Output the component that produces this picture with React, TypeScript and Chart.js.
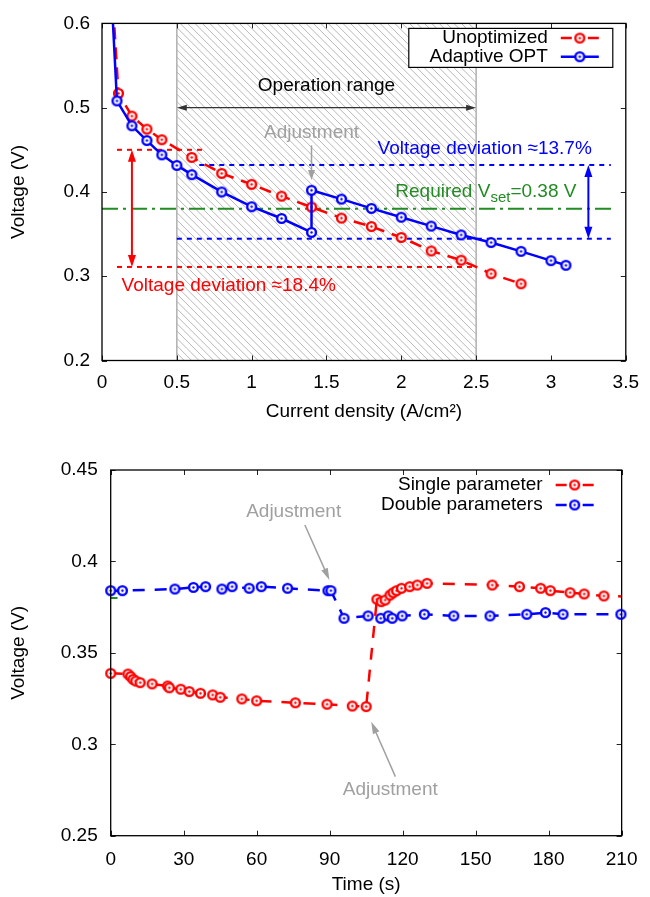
import React, { useEffect, useRef } from "react";
import { Chart, registerables } from "chart.js";

Chart.register(...registerables);

const FONT = "'Liberation Sans', Arial, Helvetica, sans-serif";

// ---------------- Top chart data ----------------
const unoptCurrent = [0.05, 0.11, 0.2, 0.3, 0.4, 0.6, 0.8, 1.0, 1.2, 1.4, 1.6, 1.8, 2.0, 2.2, 2.4, 2.6, 2.8];
const unoptVoltage = [0.69, 0.517, 0.49, 0.4745, 0.462, 0.441, 0.422, 0.409, 0.395, 0.382, 0.369, 0.359, 0.346, 0.33, 0.319, 0.303, 0.291];
const adaptCurrent = [0.05, 0.1, 0.2, 0.3, 0.4, 0.5, 0.6, 0.8, 1.0, 1.2, 1.4, 1.4, 1.6, 1.8, 2.0, 2.2, 2.4, 2.6, 2.8, 3.0, 3.1];
const adaptVoltage = [0.68, 0.508, 0.4785, 0.461, 0.444, 0.4315, 0.4205, 0.4, 0.3825, 0.3685, 0.352, 0.402, 0.3915, 0.3805, 0.37, 0.3595, 0.349, 0.34, 0.3295, 0.3185, 0.313];
const topXTicks = [0, 0.5, 1, 1.5, 2, 2.5, 3, 3.5];
const topYTicks = [0.2, 0.3, 0.4, 0.5, 0.6];
const vSet = 0.38;
const vSetRange = [0, 3.43];
const redDevUpper = 0.45;
const redDevUpperRange = [0.1, 0.7];
const redDevLower = 0.311;
const redDevLowerRange = [0.1, 2.5];
const blueDevUpper = 0.432;
const blueDevUpperRange = [0.65, 3.4];
const blueDevLower = 0.3445;
const blueDevLowerRange = [0.5, 3.4];
const operationRange = [0.5, 2.5];

// ---------------- Bottom chart data ----------------
const singleTime = [0, 7.1, 8.2, 9.2, 10.3, 12.1, 17, 23.4, 24.1, 28.8, 32.3, 36.9, 41.9, 45, 53.9, 60, 75.9, 88.9, 99.3, 105, 109.4, 111.2, 112.8, 114.8, 116.1, 117.5, 119.5, 122.9, 126, 130, 156.8, 168, 176.7, 180.7, 188.8, 194.6, 202.7, 212];
const singleVoltage = [0.3388, 0.3384, 0.337, 0.3355, 0.3346, 0.3337, 0.333, 0.3319, 0.3309, 0.3301, 0.3288, 0.3279, 0.327, 0.3257, 0.3248, 0.3238, 0.3227, 0.3219, 0.3209, 0.3206, 0.3793, 0.378, 0.3789, 0.3816, 0.3829, 0.384, 0.3853, 0.3862, 0.3871, 0.388, 0.3871, 0.3862, 0.3853, 0.384, 0.3829, 0.3822, 0.3811, 0.3808];
const doubleTime = [0, 4.8, 26.4, 34, 39, 45.7, 49.9, 56.9, 61.9, 72.7, 89.3, 90.5, 95.9, 105.8, 111, 114.1, 115.7, 119.8, 128.9, 141, 155.9, 171, 178.7, 185.9, 209.7];
const doubleVoltage = [0.384, 0.384, 0.3849, 0.3858, 0.3862, 0.3849, 0.3862, 0.3853, 0.3862, 0.3853, 0.384, 0.384, 0.3689, 0.3702, 0.3689, 0.3702, 0.3689, 0.3702, 0.3711, 0.3702, 0.3702, 0.3711, 0.372, 0.3711, 0.3711];
const bottomXTicks = [0, 30, 60, 90, 120, 150, 180, 210];
const bottomYTicks = [0.25, 0.3, 0.35, 0.4, 0.45];
const bottomVSetRange = [0, 2.8];

const RED = "#ff0000";
const BLUE = "#0000ff";
const GREEN = "#228b22";
const GRAY = "#a0a0a0";

function makeMarker(color: string) {
  const c = document.createElement("canvas");
  c.width = 15;
  c.height = 15;
  const g = c.getContext("2d")!;
  g.beginPath();
  g.arc(7.5, 7.5, 4.4, 0, Math.PI * 2);
  g.fillStyle = "#fff";
  g.fill();
  g.lineWidth = 2.4;
  g.strokeStyle = color;
  g.stroke();
  g.beginPath();
  g.arc(7.5, 7.5, 1.2, 0, Math.PI * 2);
  g.fillStyle = color;
  g.fill();
  return c;
}

function pts(xs: number[], ys: number[]) {
  return xs.map((x, i) => ({ x, y: ys[i] }));
}

function hline(v: number, r: number[]) {
  return [{ x: r[0], y: v }, { x: r[1], y: v }];
}

function headAt(ctx: CanvasRenderingContext2D, x: number, y: number, ang: number, len: number, hw: number) {
  const c = Math.cos(ang), s = Math.sin(ang);
  ctx.beginPath();
  ctx.moveTo(x, y);
  ctx.lineTo(x - len * c + hw * s, y - len * s - hw * c);
  ctx.lineTo(x - len * c - hw * s, y - len * s + hw * c);
  ctx.closePath();
  ctx.fill();
}

function arrow(
  ctx: CanvasRenderingContext2D,
  x1: number, y1: number, x2: number, y2: number,
  color: string, width: number, len: number, hw: number, start: boolean, end: boolean
) {
  ctx.save();
  ctx.strokeStyle = color;
  ctx.fillStyle = color;
  ctx.lineWidth = width;
  const ang = Math.atan2(y2 - y1, x2 - x1);
  const c = Math.cos(ang), s = Math.sin(ang);
  const sx = start ? x1 + c * len * 0.7 : x1;
  const sy = start ? y1 + s * len * 0.7 : y1;
  const ex = end ? x2 - c * len * 0.7 : x2;
  const ey = end ? y2 - s * len * 0.7 : y2;
  ctx.beginPath();
  ctx.moveTo(sx, sy);
  ctx.lineTo(ex, ey);
  ctx.stroke();
  if (end) headAt(ctx, x2, y2, ang, len, hw);
  if (start) headAt(ctx, x1, y1, ang + Math.PI, len, hw);
  ctx.restore();
}

function text(ctx: CanvasRenderingContext2D, str: string, x: number, y: number, color: string, align: CanvasTextAlign, size = 19) {
  ctx.save();
  ctx.font = `${size}px ${FONT}`;
  ctx.fillStyle = color;
  ctx.textAlign = align;
  ctx.textBaseline = "middle";
  ctx.fillText(str, x, y);
  ctx.restore();
}

function drawFrame(chart: any, xTicks: number[], yTicks: number[]) {
  const { ctx, chartArea: a, scales } = chart;
  const xs = scales.x, ys = scales.y;
  ctx.save();
  ctx.strokeStyle = "#222";
  ctx.lineWidth = 1;
  ctx.beginPath();
  xTicks.forEach((v) => {
    const p = Math.round(xs.getPixelForValue(v)) + 0.5;
    ctx.moveTo(p, a.bottom);
    ctx.lineTo(p, a.bottom - 5);
    ctx.moveTo(p, a.top);
    ctx.lineTo(p, a.top + 5);
  });
  yTicks.forEach((v) => {
    const p = Math.round(ys.getPixelForValue(v)) + 0.5;
    ctx.moveTo(a.left, p);
    ctx.lineTo(a.left + 5, p);
    ctx.moveTo(a.right, p);
    ctx.lineTo(a.right - 5, p);
  });
  ctx.stroke();
  ctx.strokeStyle = "#000";
  ctx.lineWidth = 1.3;
  ctx.strokeRect(a.left, a.top, a.right - a.left, a.bottom - a.top);
  ctx.restore();
}

function legendRow(ctx: CanvasRenderingContext2D, label: string, xr: number, y: number, l: number, r: number, color: string, dashed: boolean, marker: HTMLCanvasElement) {
  text(ctx, label, xr, y, "#000", "right");
  ctx.save();
  ctx.strokeStyle = color;
  ctx.lineWidth = 2.5;
  ctx.beginPath();
  if (dashed) {
    ctx.moveTo(l, y);
    ctx.lineTo(l + 11, y);
    ctx.moveTo(r - 11, y);
    ctx.lineTo(r, y);
  } else {
    ctx.moveTo(l, y);
    ctx.lineTo(r, y);
  }
  ctx.stroke();
  const m = (l + r) / 2;
  ctx.drawImage(marker, m - marker.width / 2, y - marker.height / 2);
  ctx.restore();
}

const axisFont = { family: FONT, size: 19 };

function makeAxis(min: number, max: number, tickVals: number[], isX: boolean, size: number, padding: number, title: string, titlePad: any) {
  return {
    type: "linear",
    min,
    max,
    afterBuildTicks: (s: any) => {
      s.ticks = tickVals.map((v) => ({ value: v }));
    },
    afterFit: (s: any) => {
      if (isX) s.height = size;
      else s.width = size;
    },
    grid: { display: false, drawTicks: false },
    border: { display: false },
    ticks: {
      padding,
      color: "#000",
      font: axisFont,
      maxRotation: 0,
      autoSkip: false,
      callback: (v: any) => String(v),
    },
    title: { display: true, text: title, color: "#000", font: axisFont, padding: titlePad },
  };
}

export default function App() {
  const topRef = useRef<HTMLCanvasElement>(null);
  const botRef = useRef<HTMLCanvasElement>(null);

  useEffect(() => {
    const redM = makeMarker(RED);
    const blueM = makeMarker(BLUE);

    const topPlugin = {
      id: "topDecor",
      beforeDatasetsDraw(chart: any) {
        const { ctx, chartArea: a, scales } = chart;
        const x0 = scales.x.getPixelForValue(operationRange[0]);
        const x1 = scales.x.getPixelForValue(operationRange[1]);
        ctx.save();
        ctx.beginPath();
        ctx.rect(x0, a.top, x1 - x0, a.bottom - a.top);
        ctx.clip();
        ctx.strokeStyle = "#b8b8b8";
        ctx.lineWidth = 1;
        const h = a.bottom - a.top;
        ctx.beginPath();
        for (let k = x0 - h; k < x1; k += 7.4) {
          ctx.moveTo(k, a.top);
          ctx.lineTo(k + h, a.bottom);
        }
        ctx.stroke();
        ctx.restore();
        ctx.save();
        ctx.strokeStyle = "#b0b0b0";
        ctx.lineWidth = 1.5;
        ctx.beginPath();
        ctx.moveTo(x0, a.top);
        ctx.lineTo(x0, a.bottom);
        ctx.moveTo(x1, a.top);
        ctx.lineTo(x1, a.bottom);
        ctx.stroke();
        ctx.restore();
      },
      afterDatasetsDraw(chart: any) {
        const { ctx, chartArea: a, scales } = chart;
        const X = (v: number) => scales.x.getPixelForValue(v);
        const Y = (v: number) => scales.y.getPixelForValue(v);
        // Operation range
        text(ctx, "Operation range", X(1.5), Y(0.526), "#000", "center");
        arrow(ctx, X(operationRange[0]), Y(0.5), X(operationRange[1]), Y(0.5), "#333", 1.2, 10, 3, true, true);
        // Adjustment
        text(ctx, "Adjustment", X(1.4), Y(0.4706), GRAY, "center");
        arrow(ctx, X(1.4), Y(0.4553), X(1.4), Y(0.4141), GRAY, 1.5, 10, 3.5, false, true);
        // deviations
        arrow(ctx, X(0.2), Y(redDevUpper), X(0.2), Y(redDevLower), RED, 2, 12, 4, true, true);
        arrow(ctx, X(3.25), Y(blueDevUpper), X(3.25), Y(blueDevLower), BLUE, 2, 12, 4, true, true);
        text(ctx, "Voltage deviation \u224813.7%", X(2.557), Y(0.451), BLUE, "center");
        text(ctx, "Voltage deviation \u224818.4%", X(0.131), Y(0.2882), RED, "left");
        // Required Vset
        ctx.save();
        ctx.fillStyle = GREEN;
        ctx.textAlign = "left";
        ctx.textBaseline = "alphabetic";
        let tx = X(1.96);
        const ty = Y(0.3941);
        ctx.font = `19px ${FONT}`;
        ctx.fillText("Required V", tx, ty);
        tx += ctx.measureText("Required V").width;
        ctx.font = `15px ${FONT}`;
        ctx.fillText("set", tx, ty + 5);
        tx += ctx.measureText("set").width;
        ctx.font = `19px ${FONT}`;
        ctx.fillText("=0.38 V", tx, ty);
        ctx.restore();

        drawFrame(chart, topXTicks, topYTicks);

        // legend
        const r = a.right;
        const t = a.top;
        ctx.save();
        ctx.fillStyle = "#fff";
        ctx.fillRect(r - 217, t + 5, 204, 39);
        ctx.strokeStyle = "#000";
        ctx.lineWidth = 1.2;
        ctx.strokeRect(r - 217, t + 5, 204, 39);
        ctx.restore();
        legendRow(ctx, "Unoptimized", r - 78, t + 14.7, r - 65, r - 27, RED, true, redM);
        legendRow(ctx, "Adaptive OPT", r - 78, t + 33.3, r - 65, r - 27, BLUE, false, blueM);
      },
    };

    const botPlugin = {
      id: "botDecor",
      afterDatasetsDraw(chart: any) {
        const { ctx, chartArea: a, scales } = chart;
        const X = (v: number) => scales.x.getPixelForValue(v);
        const Y = (v: number) => scales.y.getPixelForValue(v);
        text(ctx, "Adjustment", X(75.2), Y(0.4272), GRAY, "center");
        arrow(ctx, X(79.8), Y(0.4199), X(89.9), Y(0.3898), GRAY, 1.5, 12, 3.5, false, true);
        text(ctx, "Adjustment", X(114.9), Y(0.275), GRAY, "center");
        arrow(ctx, X(117), Y(0.2823), X(107.1), Y(0.3123), GRAY, 1.5, 12, 3.5, false, true);
        drawFrame(chart, bottomXTicks, bottomYTicks);
        const r = a.right;
        const t = a.top;
        legendRow(ctx, "Single parameter", r - 79, t + 15, r - 66, r - 28, RED, true, redM);
        legendRow(ctx, "Double parameters", r - 79, t + 35, r - 66, r - 28, BLUE, true, blueM);
      },
    };

    const refLine = (data: any[], color: string, dash: number[], width = 2) => ({
      data,
      borderColor: color,
      borderWidth: width,
      borderDash: dash,
      pointRadius: 0,
      pointHoverRadius: 0,
      fill: false,
    });

    const top = new Chart(topRef.current!, {
      type: "line",
      data: {
        datasets: [
          {
            label: "Adaptive OPT",
            data: pts(adaptCurrent, adaptVoltage),
            borderColor: BLUE,
            borderWidth: 2.5,
            pointStyle: blueM,
            pointRadius: 5,
            fill: false,
          },
          {
            label: "Unoptimized",
            data: pts(unoptCurrent, unoptVoltage),
            borderColor: RED,
            borderWidth: 2.5,
            borderDash: [12, 8],
            pointStyle: redM,
            pointRadius: 5,
            fill: false,
          },
          refLine(hline(vSet, vSetRange), GREEN, [16, 5, 3, 5]),
          refLine(hline(redDevUpper, redDevUpperRange), RED, [5, 5]),
          refLine(hline(redDevLower, redDevLowerRange), RED, [5, 5]),
          refLine(hline(blueDevUpper, blueDevUpperRange), BLUE, [5, 5]),
          refLine(hline(blueDevLower, blueDevLowerRange), BLUE, [5, 5]),
        ] as any,
      },
      options: {
        animation: false,
        responsive: false,
        events: [],
        layout: { padding: { top: 20, right: 23, left: 0, bottom: 0 } },
        plugins: { legend: { display: false }, tooltip: { enabled: false } },
        scales: {
          x: makeAxis(0, 3.5, topXTicks, true, 79.5, 11, "Current density (A/cm\u00b2)", { top: 0, bottom: 17 }),
          y: makeAxis(0.2, 0.6, topYTicks, false, 102, 12, "Voltage (V)", { top: 7, bottom: 0 }),
        } as any,
      },
      plugins: [topPlugin],
    });

    const bot = new Chart(botRef.current!, {
      type: "line",
      data: {
        datasets: [
          {
            label: "Single parameter",
            data: pts(singleTime, singleVoltage),
            borderColor: RED,
            borderWidth: 2.5,
            borderDash: [12, 10],
            pointStyle: redM,
            pointRadius: 5,
            fill: false,
            clip: { left: 8, top: 0, right: 0, bottom: 0 },
          },
          {
            label: "Double parameters",
            data: pts(doubleTime, doubleVoltage),
            borderColor: BLUE,
            borderWidth: 2.5,
            borderDash: [12, 10],
            pointStyle: blueM,
            pointRadius: 5,
            fill: false,
            clip: { left: 8, top: 0, right: 8, bottom: 0 },
          },
          refLine(hline(vSet, bottomVSetRange), GREEN, []),
        ] as any,
      },
      options: {
        animation: false,
        responsive: false,
        events: [],
        layout: { padding: { top: 30, right: 19.3, left: 0, bottom: 0 } },
        plugins: { legend: { display: false }, tooltip: { enabled: false } },
        scales: {
          x: makeAxis(0, 210, bottomXTicks, true, 61.3, 12.5, "Time (s)", { top: 0, bottom: 1 }),
          y: makeAxis(0.25, 0.45, bottomYTicks, false, 110.7, 13, "Voltage (V)", { top: 7, bottom: 0 }),
        } as any,
      },
      plugins: [botPlugin],
    });

    return () => {
      top.destroy();
      bot.destroy();
    };
  }, []);

  return (
    <div style={{ position: "absolute", left: 0, top: 0, width: 650, height: 897, background: "#fff" }}>
      <canvas ref={topRef} width={650} height={440} style={{ position: "absolute", left: 0, top: 0, display: "block" }} />
      <canvas ref={botRef} width={650} height={457} style={{ position: "absolute", left: 0, top: 440, display: "block" }} />
    </div>
  );
}
